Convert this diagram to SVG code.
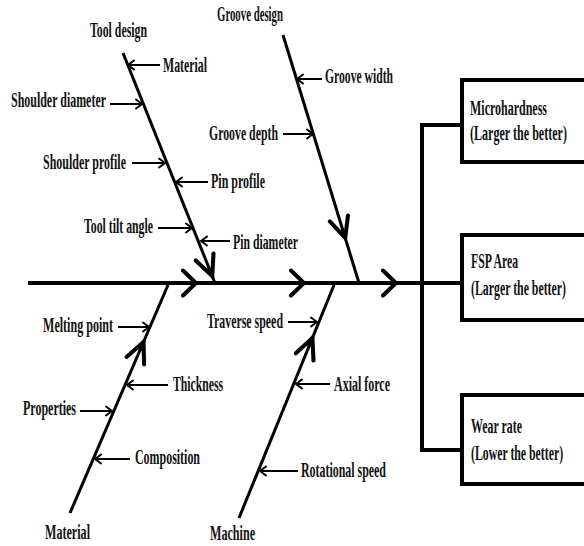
<svg xmlns="http://www.w3.org/2000/svg" width="584" height="546" viewBox="0 0 584 546">
<style>
text{font-family:"Liberation Serif","Times New Roman",serif;font-weight:bold;font-size:21px;fill:#111}
.spine{stroke:#000;stroke-width:4;fill:none}
.bone{stroke:#000;stroke-width:3;fill:none}
.sub{stroke:#000;stroke-width:2;fill:none}
.box{stroke:#000;stroke-width:4;fill:#fff}
</style>
<defs>
<marker id="big" markerUnits="userSpaceOnUse" markerWidth="30" markerHeight="30" viewBox="-16 -15 20 30" refX="0" refY="0" orient="auto">
<path d="M-13,-12.5 L0,0 L-13,12.5" stroke="#000" stroke-width="4" fill="none" stroke-linecap="round" stroke-linejoin="miter"/>
</marker>
<marker id="mid" markerUnits="userSpaceOnUse" markerWidth="30" markerHeight="30" viewBox="-18 -10 22 20" refX="0" refY="0" orient="auto">
<path d="M-15,-7 L0,0 L-15,7" stroke="#000" stroke-width="3" fill="none" stroke-linecap="round"/>
</marker>
<marker id="sm" markerUnits="userSpaceOnUse" markerWidth="14" markerHeight="12" viewBox="-8 -6 10 12" refX="0" refY="0" orient="auto">
<path d="M-6,-4.5 L0,0 L-6,4.5" stroke="#000" stroke-width="2" fill="none" stroke-linecap="round"/>
</marker>
</defs>

<g id="connectors">
<line class="spine" x1="28" y1="283" x2="462" y2="283"/>
<path class="spine" d="M180,283 L196,283" marker-end="url(#big)"/>
<path class="spine" d="M288,283 L304,283" marker-end="url(#big)"/>
<path class="spine" d="M380,283 L396,283" marker-end="url(#big)"/>
<polyline class="spine" points="462,125 422,125 422,450 462,450"/>

<line class="bone" x1="123" y1="53" x2="215" y2="283"/>
<path class="bone" d="M208.5,266.7 L212.2,276" marker-end="url(#mid)"/>
<line class="bone" x1="283" y1="35" x2="359" y2="283"/>
<path class="bone" d="M342.1,228.4 L345.2,238" marker-end="url(#mid)"/>
<line class="bone" x1="70" y1="513" x2="168" y2="285"/>
<path class="bone" d="M139.5,351.2 L143.5,342" marker-end="url(#mid)"/>
<line class="bone" x1="239" y1="518" x2="334" y2="285"/>
<path class="bone" d="M308.6,347.3 L312.4,338" marker-end="url(#mid)"/>

<line class="sub" x1="160" y1="65" x2="128" y2="65" marker-end="url(#sm)"/>
<line class="sub" x1="110" y1="104" x2="142" y2="104" marker-end="url(#sm)"/>
<line class="sub" x1="132" y1="163" x2="165" y2="163" marker-end="url(#sm)"/>
<line class="sub" x1="208" y1="182" x2="176" y2="182" marker-end="url(#sm)"/>
<line class="sub" x1="158" y1="228" x2="192" y2="228" marker-end="url(#sm)"/>
<line class="sub" x1="230" y1="241" x2="201" y2="241" marker-end="url(#sm)"/>
<line class="sub" x1="322" y1="79" x2="297" y2="79" marker-end="url(#sm)"/>
<line class="sub" x1="283" y1="134" x2="313" y2="134" marker-end="url(#sm)"/>
<line class="sub" x1="118" y1="327" x2="149" y2="327" marker-end="url(#sm)"/>
<line class="sub" x1="168" y1="385" x2="127" y2="385" marker-end="url(#sm)"/>
<line class="sub" x1="80" y1="411" x2="112" y2="411" marker-end="url(#sm)"/>
<line class="sub" x1="130" y1="459" x2="95" y2="459" marker-end="url(#sm)"/>
<line class="sub" x1="288" y1="322" x2="317" y2="322" marker-end="url(#sm)"/>
<line class="sub" x1="330" y1="384" x2="296" y2="384" marker-end="url(#sm)"/>
<line class="sub" x1="298" y1="471" x2="260" y2="471" marker-end="url(#sm)"/>
</g>

<g id="tool-design">
<text x="90" y="37" textLength="57" lengthAdjust="spacingAndGlyphs">Tool design</text>
<text x="163" y="72" textLength="44" lengthAdjust="spacingAndGlyphs">Material</text>
<text x="11" y="107" textLength="95" lengthAdjust="spacingAndGlyphs">Shoulder diameter</text>
<text x="43" y="169" textLength="83" lengthAdjust="spacingAndGlyphs">Shoulder profile</text>
<text x="211" y="188" textLength="54" lengthAdjust="spacingAndGlyphs">Pin profile</text>
<text x="84" y="233" textLength="69" lengthAdjust="spacingAndGlyphs">Tool tilt angle</text>
<text x="233" y="249" textLength="65" lengthAdjust="spacingAndGlyphs">Pin diameter</text>
</g>

<g id="groove-design">
<text x="217" y="21" textLength="66" lengthAdjust="spacingAndGlyphs">Groove design</text>
<text x="325" y="83" textLength="68" lengthAdjust="spacingAndGlyphs">Groove width</text>
<text x="209" y="140" textLength="69" lengthAdjust="spacingAndGlyphs">Groove depth</text>
</g>

<g id="material">
<text x="43" y="332" textLength="70" lengthAdjust="spacingAndGlyphs">Melting point</text>
<text x="173" y="391" textLength="50" lengthAdjust="spacingAndGlyphs">Thickness</text>
<text x="23" y="415" textLength="53" lengthAdjust="spacingAndGlyphs">Properties</text>
<text x="135" y="464" textLength="65" lengthAdjust="spacingAndGlyphs">Composition</text>
<text x="45" y="539" textLength="45" lengthAdjust="spacingAndGlyphs">Material</text>
</g>

<g id="machine">
<text x="207" y="328" textLength="76" lengthAdjust="spacingAndGlyphs">Traverse speed</text>
<text x="334" y="391" textLength="56" lengthAdjust="spacingAndGlyphs">Axial force</text>
<text x="301" y="477" textLength="85" lengthAdjust="spacingAndGlyphs">Rotational speed</text>
<text x="210" y="540" textLength="45" lengthAdjust="spacingAndGlyphs">Machine</text>
</g>

<g id="microhardness">
<path class="box" d="M584,80 L462,80 L462,162 L584,162"/>
<text transform="translate(470,115) scale(0.569,1)" textLength="135.3" lengthAdjust="spacingAndGlyphs">Microhardness</text>
<text transform="translate(470,140) scale(0.574,1)" textLength="169" lengthAdjust="spacingAndGlyphs">(Larger the better)</text>
</g>

<g id="fsp-area">
<path class="box" d="M584,235 L462,235 L462,320 L584,320"/>
<text transform="translate(471,268) scale(0.541,1)" textLength="86.9" lengthAdjust="spacingAndGlyphs">FSP Area</text>
<text transform="translate(471,295) scale(0.562,1)" textLength="169" lengthAdjust="spacingAndGlyphs">(Larger the better)</text>
</g>

<g id="wear-rate">
<path class="box" d="M584,395 L462,395 L462,484 L584,484"/>
<text transform="translate(471,433) scale(0.557,1)" textLength="91.5" lengthAdjust="spacingAndGlyphs">Wear rate</text>
<text transform="translate(471,460) scale(0.56,1)" textLength="164.4" lengthAdjust="spacingAndGlyphs">(Lower the better)</text>
</g>
</svg>
